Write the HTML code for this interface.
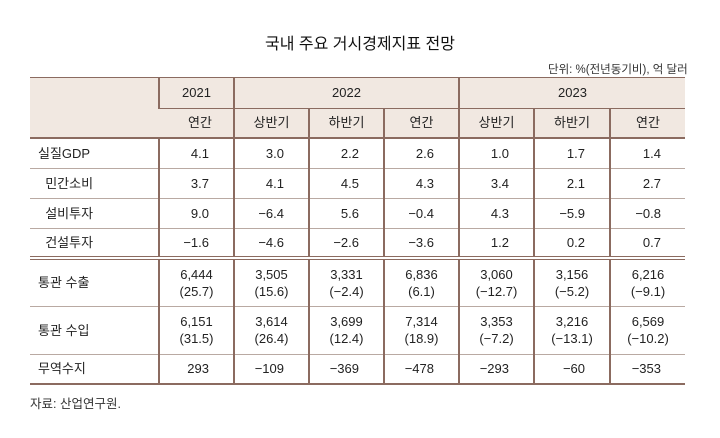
<!DOCTYPE html>
<html><head><meta charset="utf-8"><style>
*{margin:0;padding:0;box-sizing:border-box}
body{width:720px;height:438px;background:#fff;position:relative;overflow:hidden;font-family:"Liberation Sans","Noto Sans CJK KR",sans-serif;color:#222}
.t{position:absolute;white-space:nowrap}
table{position:absolute;left:30px;top:78px;border-collapse:collapse;table-layout:fixed;font-size:13px}
td{height:30px;border-bottom:1px solid #b9a9a2;border-left:2px solid #8b6b60;text-align:right;padding-right:24px;line-height:17px}
td:first-child{border-left:none;text-align:left;padding-left:8px;padding-right:0}
tr.h td{background:#f1e8e1;text-align:center;padding-right:0;border-bottom:2px solid #8b6b60}
tr.h1 td{border-bottom:1px solid #8b6b60}
tr.dbl td{border-bottom:4px double #8b6b60}
tr.tall td{height:48px;text-align:center;padding-right:0}
tr.tall td:first-child{text-align:left}
tr.last td{border-bottom:2px solid #8b6b60}
</style></head><body>
<div class="t" style="left:265px;top:30px;font-size:16px;color:#111">국내 주요 거시경제지표 전망</div>
<div class="t" style="left:548px;top:61px;font-size:11.5px;color:#333">단위: %(전년동기비), 억 달러</div>
<div style="position:absolute;left:30px;top:77px;width:655px;height:2px;background:#8b6b60"></div>
<table>
<colgroup><col style="width:129px"><col style="width:75px"><col style="width:75px"><col style="width:75px"><col style="width:75px"><col style="width:75px"><col style="width:76px"><col style="width:75px"></colgroup>
<tr class="h h1"><td rowspan="2" style="border-bottom:2px solid #8b6b60"></td><td>2021</td><td colspan="3">2022</td><td colspan="3">2023</td></tr>
<tr class="h"><td>연간</td><td>상반기</td><td>하반기</td><td>연간</td><td>상반기</td><td>하반기</td><td>연간</td></tr>
<tr><td>실질GDP</td><td>4.1</td><td>3.0</td><td>2.2</td><td>2.6</td><td>1.0</td><td>1.7</td><td>1.4</td></tr>
<tr><td>&nbsp;&nbsp;민간소비</td><td>3.7</td><td>4.1</td><td>4.5</td><td>4.3</td><td>3.4</td><td>2.1</td><td>2.7</td></tr>
<tr><td>&nbsp;&nbsp;설비투자</td><td>9.0</td><td>−6.4</td><td>5.6</td><td>−0.4</td><td>4.3</td><td>−5.9</td><td>−0.8</td></tr>
<tr class="dbl"><td>&nbsp;&nbsp;건설투자</td><td>−1.6</td><td>−4.6</td><td>−2.6</td><td>−3.6</td><td>1.2</td><td>0.2</td><td>0.7</td></tr>
<tr class="tall"><td>통관 수출</td><td>6,444<br>(25.7)</td><td>3,505<br>(15.6)</td><td>3,331<br>(−2.4)</td><td>6,836<br>(6.1)</td><td>3,060<br>(−12.7)</td><td>3,156<br>(−5.2)</td><td>6,216<br>(−9.1)</td></tr>
<tr class="tall"><td>통관 수입</td><td>6,151<br>(31.5)</td><td>3,614<br>(26.4)</td><td>3,699<br>(12.4)</td><td>7,314<br>(18.9)</td><td>3,353<br>(−7.2)</td><td>3,216<br>(−13.1)</td><td>6,569<br>(−10.2)</td></tr>
<tr class="last"><td>무역수지</td><td>293</td><td>−109</td><td>−369</td><td>−478</td><td>−293</td><td>−60</td><td>−353</td></tr>
</table>
<div class="t" style="left:30px;top:393px;font-size:12.5px;color:#333">자료: 산업연구원.</div>
</body></html>
